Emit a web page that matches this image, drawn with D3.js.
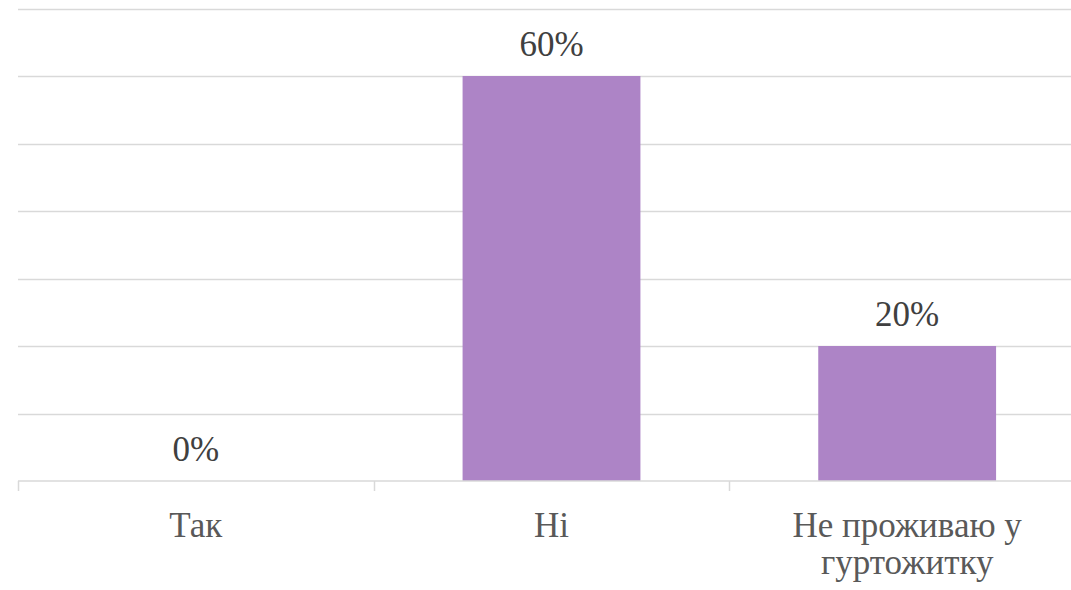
<!DOCTYPE html>
<html><head><meta charset="utf-8">
<script src="https://cdn.jsdelivr.net/npm/d3@7"></script>
</head><body style="margin:0;overflow:hidden;background:#fff">
<svg id="chart" width="1071" height="590"></svg>
<script>
const categories = [["Так"], ["Ні"], ["Не проживаю у", "гуртожитку"]];
const categoryKeys = ["Так", "Ні", "Не проживаю у гуртожитку"];
const values = [0, 0.60, 0.20];
const yTicks = [0, 0.1, 0.2, 0.3, 0.4, 0.5, 0.6, 0.7];

const FONT = '"Liberation Serif", "Times New Roman", serif';
const svg = d3.select("#chart");
const x = d3.scaleBand().domain(categoryKeys).range([18, 1085]).paddingInner(0.5).paddingOuter(0.25);
const y = d3.scaleLinear().domain([0, 0.7]).range([481, 8.5]);

// gridlines
svg.append("g").selectAll("line").data(yTicks.filter(d => d > 0)).join("line")
  .attr("x1", 18).attr("x2", 1085)
  .attr("y1", d => Math.round(y(d)) + 0.5).attr("y2", d => Math.round(y(d)) + 0.5)
  .attr("stroke", "#d9d9d9").attr("stroke-width", 1.5);

// bars
svg.append("g").selectAll("rect").data(values).join("rect")
  .attr("x", (d, i) => x(categoryKeys[i]))
  .attr("width", x.bandwidth())
  .attr("y", d => y(d))
  .attr("height", d => y(0) - y(d))
  .attr("fill", "#ad84c6");

// x axis
const step = x.step();
const bounds = [0, 1, 2, 3].map(i => 18 + i * step);
const ax = svg.append("g");
ax.append("line").attr("x1", 18).attr("x2", 1085).attr("y1", 481).attr("y2", 481)
  .attr("stroke", "#d9d9d9").attr("stroke-width", 1.5);
ax.selectAll("line.tick").data(bounds).join("line").attr("class", "tick")
  .attr("x1", d => Math.round(d) + 0.5).attr("x2", d => Math.round(d) + 0.5)
  .attr("y1", 481).attr("y2", 491).attr("stroke", "#d9d9d9").attr("stroke-width", 1.5);

// category labels
const lbl = svg.append("g").selectAll("text").data(categories).join("text")
  .attr("x", (d, i) => x(categoryKeys[i]) + x.bandwidth() / 2)
  .attr("y", 537)
  .attr("text-anchor", "middle")
  .style("font-size", "35px")
  .style("font-family", FONT).attr("fill", "#595959");
lbl.selectAll("tspan").data(d => d).join("tspan")
  .attr("x", function () { return this.parentNode.getAttribute("x"); })
  .attr("dy", (d, i) => i === 0 ? 0 : 37)
  .text(d => d);

// value labels
svg.append("g").selectAll("text").data(values).join("text")
  .attr("x", (d, i) => x(categoryKeys[i]) + x.bandwidth() / 2)
  .attr("y", d => y(d) - 20)
  .attr("text-anchor", "middle")
  .style("font-size", "35px")
  .style("font-family", FONT).attr("fill", "#404040")
  .text(d => d3.format(".0%")(d));
</script>
</body></html>
